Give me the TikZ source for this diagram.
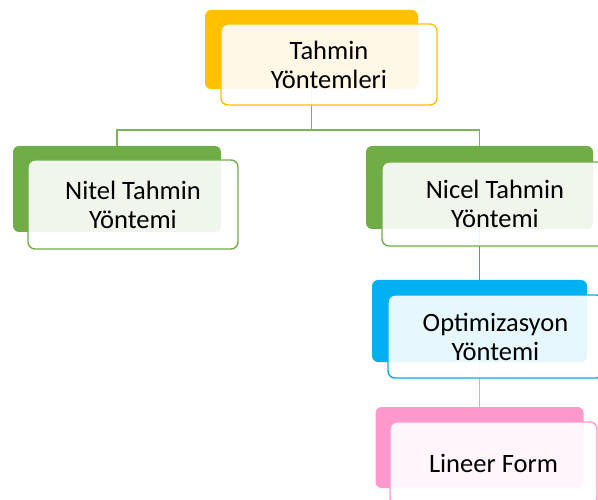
\documentclass[tikz,border=0pt]{standalone}
\usepackage{fontspec}
\setmainfont{Carlito}
\definecolor{cOr}{HTML}{FFC000}
\definecolor{cGr}{HTML}{70AD47}
\definecolor{cGrL}{HTML}{7DB556}
\definecolor{cBl}{HTML}{00B0F0}
\definecolor{cPk}{HTML}{FF99CC}
\tikzset{
  backbox/.style={fill=#1, draw=none, rounded corners=6pt, inner sep=0pt},
  frontbox/.style={draw=#1, line width=1.4pt, fill=white, fill opacity=0.9, text opacity=1,
    rounded corners=7pt, inner sep=0pt, align=center,
    font=\fontsize{26.5}{29}\selectfont},
  link/.style={draw=#1, line width=1.5pt}
}
\begin{document}
\begin{tikzpicture}[x=1pt,y=-1pt]
\useasboundingbox (0,0) rectangle (598,500);
% back boxes
\node[backbox=cOr, minimum width=213pt, minimum height=79pt] (tb) at (311.5,49.5) {};
\node[backbox=cGr, minimum width=208pt, minimum height=86pt] (lb) at (117,189) {};
\node[backbox=cGr, minimum width=227pt, minimum height=83pt] (rb) at (479.5,187.5) {};
\node[backbox=cBl, minimum width=215pt, minimum height=82pt] (ob) at (479.5,321) {};
\node[backbox=cPk, minimum width=208pt, minimum height=81pt] (pb) at (479.5,447.5) {};
% connectors
\coordinate (hub) at (311.5,130);
\draw[link=cGrL] (tb.south) -- (hub) -| (lb.north);
\draw[link=cGrL] (hub) -| (rb.north);
\draw[link=cBl] (rb.south) -- (ob.north);
\draw[link=cPk] (ob.south) -- (pb.north);
% front boxes
\node[frontbox=cOr, minimum width=216pt, minimum height=81pt] (tf) at (329,64.5) {Tahmin\\Yöntemleri};
\node[frontbox=cGr, minimum width=210pt, minimum height=89pt] (lf) at (133,204.5) {Nitel Tahmin\\Yöntemi};
\node[frontbox=cGr, minimum width=226pt, minimum height=84pt] (rf) at (495,204) {Nicel Tahmin\\Yöntemi};
\node[frontbox=cBl, minimum width=215pt, minimum height=83pt] (of) at (495.5,336.5) {Optimizasyon\\Yöntemi};
\node[frontbox=cPk, minimum width=207pt, minimum height=83pt] (pf) at (493.5,463.5) {Lineer Form};
\end{tikzpicture}
\end{document}
